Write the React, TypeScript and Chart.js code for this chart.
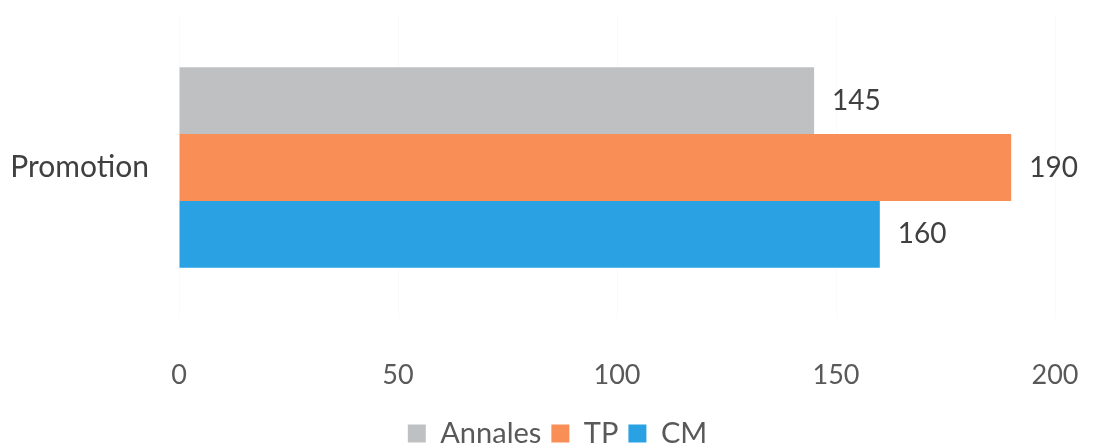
import React, { useEffect, useRef } from "react";
import { Chart, registerables } from "chart.js";

Chart.register(...registerables);

const categories = ["Promotion"];
const seriesNames = ["Annales", "TP", "CM"];
const annalesValues = [145];
const tpValues = [190];
const cmValues = [160];
const seriesColors = ["#bfc0c2", "#f98f57", "#29a1e3"];
const xTicks = [0, 50, 100, 150, 200];

const FONT = "Lato, 'Open Sans', sans-serif";

const valueLabels = {
  id: "valueLabels",
  afterDatasetsDraw(chart: any) {
    const ctx = chart.ctx;
    ctx.save();
    ctx.font = `28px ${FONT}`;
    ctx.fillStyle = "#404040";
    ctx.textAlign = "left";
    ctx.textBaseline = "middle";
    chart.data.datasets.forEach((ds: any, i: number) => {
      const meta = chart.getDatasetMeta(i);
      meta.data.forEach((el: any, j: number) => {
        ctx.fillText(String(ds.data[j]), el.x + 18, el.y);
      });
    });
    ctx.restore();
  },
};

const legendShift = {
  id: "legendShift",
  afterLayout(chart: any) {
    if (chart.legend) {
      chart.legend.left += 10;
      chart.legend.right += 10;
    }
  },
};

export default function App() {
  const ref = useRef<HTMLCanvasElement>(null);
  useEffect(() => {
    document.body.style.margin = "0";
    document.body.style.overflow = "hidden";
    const data = {
      labels: categories,
      datasets: [annalesValues, tpValues, cmValues].map((vals, i) => ({
        label: seriesNames[i],
        data: vals,
        backgroundColor: seriesColors[i],
        borderWidth: 0,
        barPercentage: 1.0,
        categoryPercentage: 0.662,
      })),
    };
    const chart = new Chart(ref.current!, {
      type: "bar",
      data,
      options: {
        indexAxis: "y",
        animation: false,
        responsive: false,
        maintainAspectRatio: false,
        layout: { padding: { top: 16, right: 0, left: 0, bottom: 0 } },
        scales: {
          x: {
            min: 0,
            max: 200,
            afterBuildTicks: (scale: any) => {
              scale.ticks = xTicks.map((v) => ({ value: v }));
            },
            afterFit: (scale: any) => {
              scale.height = 90;
              scale.paddingLeft = 0;
              scale.paddingRight = 40;
            },
            grid: { color: "rgba(0,0,0,0.02)", drawTicks: false },
            border: { display: false },
            ticks: {
              padding: 40,
              color: "#595959",
              font: { family: FONT, size: 27 },
            },
          },
          y: {
            afterFit: (scale: any) => {
              scale.width = 179;
              scale.paddingTop = 0;
              scale.paddingBottom = 0;
            },
            grid: { display: false, drawTicks: false },
            border: { display: false },
            ticks: {
              padding: 30,
              color: "#404040",
              font: { family: FONT, size: 30 },
            },
          },
        },
        plugins: {
          legend: {
            position: "bottom",
            labels: {
              boxWidth: 18,
              boxHeight: 18,
              padding: 10,
              color: "#595959",
              font: { family: FONT, size: 29 },
            },
          },
          tooltip: { enabled: false },
        },
      },
      plugins: [valueLabels, legendShift],
    });
    return () => chart.destroy();
  }, []);
  return (
    <div style={{ width: 1095, height: 458 }}>
      <canvas ref={ref} width={1095} height={458} style={{ display: "block" }} />
    </div>
  );
}
